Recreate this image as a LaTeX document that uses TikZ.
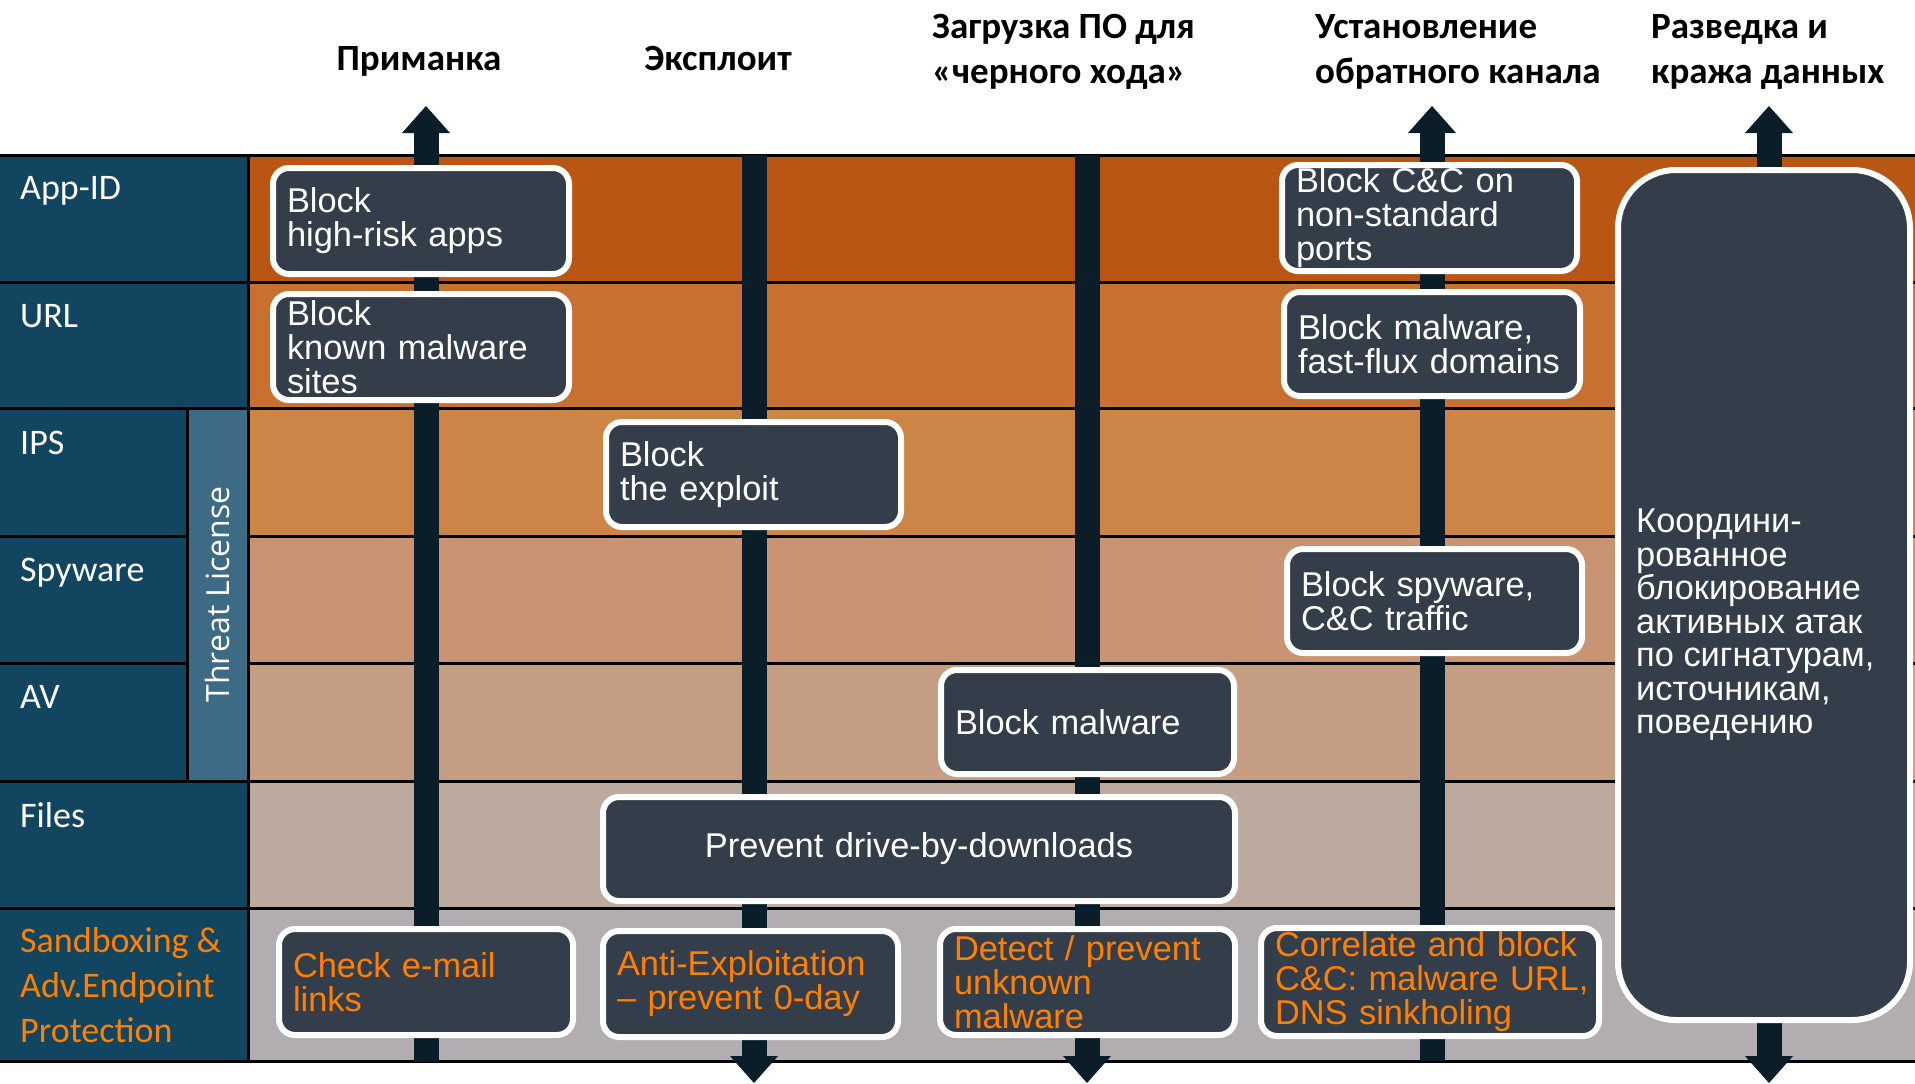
\documentclass[tikz,border=0pt]{standalone}
\usepackage{fontspec}
\setmainfont{Liberation Sans}
\newfontfamily\headfont{Carlito}
\newfontfamily\rowfont{Carlito}
\newfontfamily\licfont{Open Sans}
\usetikzlibrary{arrows.meta}

\definecolor{rowappid}{HTML}{BA5613}
\definecolor{rowurl}{HTML}{C8702F}
\definecolor{rowips}{HTML}{CC8447}
\definecolor{rowspy}{HTML}{C99473}
\definecolor{rowav}{HTML}{C49D82}
\definecolor{rowfiles}{HTML}{BDAA9E}
\definecolor{rowsand}{HTML}{B2ADB0}
\definecolor{sidebar}{HTML}{124560}
\definecolor{licbar}{HTML}{3D6A84}
\definecolor{boxfill}{HTML}{343D4A}
\definecolor{lane}{HTML}{0B1D29}
\definecolor{sandorange}{HTML}{FF8000}

\tikzset{lanetip/.tip={Triangle[width=48pt, length=27pt, line width=0pt]}}

\begin{document}
\begin{tikzpicture}[x=1pt, y=-1pt,
  box/.style={draw=white, line width=6pt, fill=boxfill, rounded corners=16pt,
    text=white, font=\fontsize{34.4}{34}\selectfont, align=left,
    inner xsep=14pt, inner ysep=0pt},
  sandbox/.style={box, text=sandorange},
  head/.style={font=\headfont\bfseries\fontsize{37}{45}\selectfont,
    inner sep=0pt, align=left},
  rowlabel/.style={font=\rowfont\fontsize{36}{45}\selectfont, text=white,
    inner sep=0pt, anchor=base west, align=left},
  gridline/.style={line width=3pt, draw=black},
  lanestyle/.style={line width=25pt, draw=lane}]

\useasboundingbox (0,0) rectangle (1915,1084);
\fill[white] (0,0) rectangle (1915,1084);

% row bands
\fill[rowappid] (248,155) rectangle (1915,282);
\fill[rowurl]   (248,282) rectangle (1915,408);
\fill[rowips]   (248,408) rectangle (1915,536);
\fill[rowspy]   (248,536) rectangle (1915,663);
\fill[rowav]    (248,663) rectangle (1915,781);
\fill[rowfiles] (248,781) rectangle (1915,908);
\fill[rowsand]  (248,908) rectangle (1915,1061);

% left header column
\fill[sidebar] (0,155) rectangle (248,1061);
\node[fill=licbar, minimum width=373pt, minimum height=61pt, rotate=90,
  text=white, font=\licfont\fontsize{32}{32}\selectfont, inner sep=0pt]
  (threat) at (217.5,594.5) {Threat License};

% grid
\draw[gridline] (0,155) -- (1915,155);
\draw[gridline] (0,282) -- (1915,282);
\draw[gridline] (0,408) -- (1915,408);
\draw[gridline] (0,536) -- (187,536);
\draw[gridline] (248,536) -- (1915,536);
\draw[gridline] (0,663) -- (187,663);
\draw[gridline] (248,663) -- (1915,663);
\draw[gridline] (0,781) -- (1915,781);
\draw[gridline] (0,908) -- (1915,908);
\draw[gridline] (0,1061) -- (1915,1061);
\draw[gridline] (248,155) -- (248,1061);
\draw[gridline] (187,408) -- (187,781);

% attack-stage lanes
\coordinate (l1top) at (426,106);  \coordinate (l1bot) at (426,1062);
\coordinate (l2top) at (754,155);  \coordinate (l2bot) at (754,1083);
\coordinate (l3top) at (1087,155); \coordinate (l3bot) at (1087,1083);
\coordinate (l4top) at (1432,106); \coordinate (l4bot) at (1432,1061);
\coordinate (l5top) at (1769,106); \coordinate (l5bot) at (1769,1083);
\draw[lanestyle, -lanetip] (l1bot) -- (l1top);
\draw[lanestyle, -lanetip] (l2top) -- (l2bot);
\draw[lanestyle, -lanetip] (l3top) -- (l3bot);
\draw[lanestyle, -lanetip] (l4bot) -- (l4top);
\draw[lanestyle, lanetip-lanetip] (l5top) -- (l5bot);

% countermeasure boxes
\node[box, text width=268pt, minimum height=106pt] (b1) at (421,221) {Block\\high-risk apps};
\node[box, text width=268pt, minimum height=106pt] (b2) at (421,347) {Block\\known malware\\sites};
\node[box, text width=267pt, minimum height=105pt] (b3) at (753.5,474.5) {Block\\the exploit};
\node[box, text width=267pt, minimum height=106pt] (b4) at (1429.5,218) {Block C\&C on\\non-standard\\ports};
\node[box, text width=268pt, minimum height=104pt] (b5) at (1432,344) {Block malware,\\fast-flux domains};
\node[box, text width=267pt, minimum height=104pt] (b6) at (1434.5,601) {Block spyware,\\C\&C traffic};
\node[box, text width=265pt, minimum height=104pt] (b7) at (1087.5,722) {Block malware};
\node[box, text width=604pt, minimum height=104pt, align=center] (b8) at (919,849) {Prevent drive-by-downloads};
\node[sandbox, text width=266pt, minimum height=106pt] (b9) at (426,982) {Check e-mail\\links};
\node[sandbox, text width=267pt, minimum height=106pt] (b10) at (750.5,984) {Anti-Exploitation\\– prevent 0-day};
\node[sandbox, text width=267pt, minimum height=106pt] (b11) at (1087.5,982) {Detect / prevent\\unknown\\malware};
\node[sandbox, text width=310pt, minimum height=108pt] (b12) at (1430,982) {\mbox{Correlate and block}\\\mbox{C\&C: malware URL,}\\\mbox{DNS sinkholing}};
\node[box, rounded corners=58pt, minimum width=292pt, minimum height=850pt] (b13) at (1764,595) {};
\node[text=white, font=\fontsize{34.4}{33.5}\selectfont, align=left, anchor=north west, inner sep=0pt]
  (b13text) at (1636,509) {Координи-\\рованное\\блокирование\\активных атак\\по сигнатурам,\\источникам,\\поведению};

% stage headers
\node[head, anchor=base] (hbait) at (419,70) {Приманка};
\node[head, anchor=base] (hexploit) at (718,70) {Эксплоит};
\node[head, anchor=base west] (hdownload) at (932,83) {Загрузка ПО для\\«черного хода»};
\node[head, anchor=base west] (hchannel) at (1315,83) {Установление\\обратного канала};
\node[head, anchor=base west] (hsteal) at (1651,83) {Разведка и\\кража данных};

% row labels
\node[rowlabel] (lappid) at (20,199) {App-ID};
\node[rowlabel] (lurl) at (20,327) {URL};
\node[rowlabel] (lips) at (20,454) {IPS};
\node[rowlabel] (lspy) at (20,581) {Spyware};
\node[rowlabel] (lav) at (20,708) {AV};
\node[rowlabel] (lfiles) at (20,827) {Files};
\node[rowlabel, text=sandorange] (lsand) at (20,1042) {Sandboxing \&\\Adv.Endpoint\\Protection};
\end{tikzpicture}
\end{document}
